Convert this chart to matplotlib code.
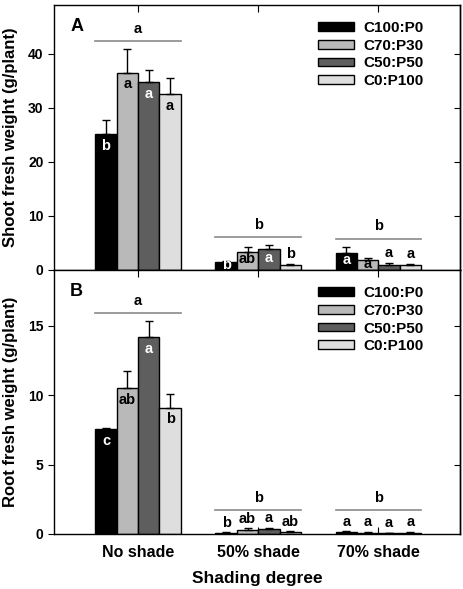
import numpy as np
import matplotlib
matplotlib.use("Agg")
import matplotlib.pyplot as plt
from matplotlib.patches import Patch

plt.rcParams['font.family'] = ['Liberation Sans', 'DejaVu Sans']

groups = ['No shade', '50% shade', '70% shade']
treatments = ['C100:P0', 'C70:P30', 'C50:P50', 'C0:P100']
colors = ['#000000', '#b9b9b9', '#5e5e5e', '#dedede']

# shoot fresh weight, rows = treatments, cols = shading groups
shoot_mean = np.array([[25.2, 1.5, 3.1],
                       [36.5, 3.4, 1.85],
                       [34.7, 3.8, 0.95],
                       [32.5, 0.9, 1.0]])
shoot_err = np.array([[2.6, 0.2, 1.2],
                      [4.4, 0.8, 0.45],
                      [2.2, 0.8, 0.35],
                      [3.0, 0.3, 0.15]])
shoot_letters = [['b', 'b', 'a'],
                 ['a', 'ab', 'a'],
                 ['a', 'a', 'a'],
                 ['a', 'b', 'a']]
shoot_inside = [[True, True, True],
                [True, True, True],
                [True, True, False],
                [True, False, False]]
shoot_group_letters = ['a', 'b', 'b']

root_mean = np.array([[7.55, 0.1, 0.15],
                      [10.5, 0.3, 0.1],
                      [14.2, 0.35, 0.05],
                      [9.1, 0.15, 0.1]])
root_err = np.array([[0.05, 0.03, 0.05],
                     [1.2, 0.1, 0.05],
                     [1.1, 0.1, 0.05],
                     [1.0, 0.05, 0.05]])
root_letters = [['c', 'b', 'a'],
                ['ab', 'ab', 'a'],
                ['a', 'a', 'a'],
                ['b', 'ab', 'a']]
root_inside = [[True, False, False],
               [True, False, False],
               [True, False, False],
               [True, False, False]]
root_group_letters = ['a', 'b', 'b']

x = np.arange(1, 4)
w = 0.178


def draw_panel(ax, mean, err, letters, inside, group_letters, ymax, yticks, ylabel, tag):
    for i in range(4):
        xs = x + (i - 1.5) * w
        ax.bar(xs, mean[i], w, color=colors[i], edgecolor='black', linewidth=1.0, zorder=2)
        ax.errorbar(xs, mean[i], yerr=[np.zeros(3), err[i]], fmt='none',
                    ecolor='black', elinewidth=1.0, capsize=3, capthick=1.0, zorder=3)
        for j in range(3):
            if inside[i][j]:
                yc = max(mean[i][j] - 0.045 * ymax, mean[i][j] * 0.6)
                tc = 'white' if i in (0, 2) else 'black'
                ax.text(xs[j], yc, letters[i][j], ha='center', va='center',
                        fontsize=10.5, fontweight='bold', color=tc, zorder=4)
            else:
                ax.text(xs[j], mean[i][j] + err[i][j] + 0.01 * ymax, letters[i][j],
                        ha='center', va='bottom', fontsize=10.5, fontweight='bold', zorder=4)
    tops = (mean + err).max(axis=0)
    for j in range(3):
        ly = max(tops[j] + 0.03 * ymax, 0.09 * ymax)
        ax.plot([x[j] - 2 * w, x[j] + 2 * w], [ly, ly], color='#8a8a8a', lw=1.2, zorder=1)
        ax.text(x[j], ly + 0.02 * ymax, group_letters[j], ha='center', va='bottom',
                fontsize=10.5, fontweight='bold')
    ax.set_xlim(0.3, 3.68)
    ax.set_ylim(0, ymax)
    ax.set_yticks(yticks)
    ax.set_xticks(x)
    ax.tick_params(axis='y', left=True, right=False, direction='out', length=4, labelsize=10)
    ax.tick_params(axis='x', top=True, bottom=True, direction='in', length=5, labelsize=11.5,
                   pad=8)
    # inward ticks on the right spine
    ax.secondary_yaxis('right').set(yticks=yticks[1:], yticklabels=[])
    for lab in ax.get_yticklabels():
        lab.set_fontweight('bold')
    ax.set_ylabel(ylabel, fontsize=12, fontweight='bold', labelpad=7)
    ax.text(0.04, 0.92, tag, transform=ax.transAxes, fontsize=13, fontweight='bold',
            ha='left', va='center')
    handles = [Patch(facecolor=c, edgecolor='black', linewidth=1.0) for c in colors]
    ax.legend(handles, treatments, loc='upper right', bbox_to_anchor=(0.94, 0.985),
              frameon=False, handlelength=2.35, handleheight=0.5, handletextpad=0.6,
              labelspacing=0.24, borderpad=0.3, prop={'weight': 'bold', 'size': 11})
    for s in ax.spines.values():
        s.set_linewidth(1.0)


fig = plt.figure(figsize=(4.64, 5.89), dpi=100)
ax1 = fig.add_axes([0.1164, 0.5416, 0.875, 0.45])
ax2 = fig.add_axes([0.1164, 0.0934, 0.875, 0.4482])

draw_panel(ax1, shoot_mean, shoot_err, shoot_letters, shoot_inside, shoot_group_letters,
           49, [0, 10, 20, 30, 40], 'Shoot fresh weight (g/plant)', 'A')
draw_panel(ax2, root_mean, root_err, root_letters, root_inside, root_group_letters,
           19, [0, 5, 10, 15], 'Root fresh weight (g/plant)', 'B')

for ax in (ax1, ax2):
    for sec in ax.child_axes:
        sec.tick_params(direction='in', length=4)
        sec.spines['right'].set_linewidth(1.0)

ax1.set_xticklabels([])
ax2.set_xticklabels(groups, fontweight='bold')
ax2.set_xlabel('Shading degree', fontsize=12.5, fontweight='bold', labelpad=8)

fig.savefig('out.png', dpi=100)
